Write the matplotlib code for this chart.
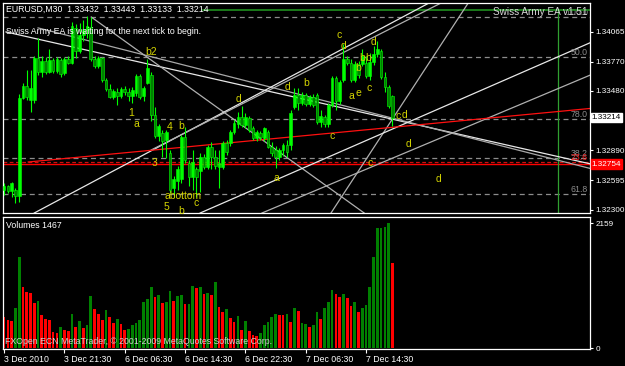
import numpy as np
import matplotlib
matplotlib.use('Agg')
import matplotlib.pyplot as plt

# EURUSD M30 candles, 3 Dec 2010 .. 7 Dec 2010
opens = [1.3250, 1.3254, 1.3249, 1.3250, 1.3244, 1.3341, 1.3353, 1.3339, 1.3339, 1.3381,
         1.3367, 1.3378, 1.3367, 1.3379, 1.3368, 1.3379, 1.3366, 1.3380, 1.3376, 1.3410,
         1.3388, 1.3403, 1.3408, 1.3411, 1.3380, 1.3373, 1.3381, 1.3359, 1.3350, 1.3342,
         1.3347, 1.3343, 1.3350, 1.3347, 1.3343, 1.3346, 1.3363, 1.3343, 1.3356, 1.3364,
         1.3324, 1.3303, 1.3306, 1.3299, 1.3286, 1.3252, 1.3259, 1.3261, 1.3302, 1.3276,
         1.3263, 1.3271, 1.3269, 1.3282, 1.3273, 1.3292, 1.3282, 1.3273, 1.3273, 1.3296,
         1.3296, 1.3307, 1.3315, 1.3322, 1.3314, 1.3321, 1.3311, 1.3301, 1.3306, 1.3301,
         1.3307, 1.3292, 1.3289, 1.3282, 1.3289, 1.3294, 1.3294, 1.3332, 1.3344, 1.3336,
         1.3344, 1.3335, 1.3342, 1.3344, 1.3317, 1.3322, 1.3315, 1.3334, 1.3361, 1.3338,
         1.3359, 1.3380, 1.3376, 1.3359, 1.3375, 1.3375, 1.3376, 1.3363, 1.3377, 1.3385,
         1.3388, 1.3362, 1.3352, 1.33432]
highs = [1.3257, 1.3255, 1.3258, 1.3252, 1.3345, 1.3356, 1.3369, 1.3369, 1.3383, 1.3400,
         1.3383, 1.3382, 1.3390, 1.3381, 1.3382, 1.3381, 1.3382, 1.3383, 1.3416, 1.3414,
         1.3415, 1.3418, 1.3422, 1.3421, 1.3383, 1.3383, 1.3382, 1.3361, 1.3355, 1.3350,
         1.3351, 1.3352, 1.3353, 1.3351, 1.3352, 1.3365, 1.3365, 1.3353, 1.3380, 1.3367,
         1.3332, 1.3315, 1.3309, 1.3309, 1.3289, 1.3264, 1.3274, 1.3304, 1.3312, 1.3279,
         1.3289, 1.3273, 1.3286, 1.3285, 1.3294, 1.3297, 1.3289, 1.3289, 1.3298, 1.3299,
         1.3309, 1.3319, 1.3327, 1.3333, 1.3326, 1.3323, 1.3313, 1.3309, 1.3308, 1.3312,
         1.3309, 1.3297, 1.3293, 1.3291, 1.3296, 1.3299, 1.3329, 1.3351, 1.3351, 1.3347,
         1.3346, 1.3344, 1.3345, 1.3346, 1.3329, 1.3324, 1.3336, 1.3363, 1.3363, 1.3359,
         1.3395, 1.3383, 1.3380, 1.3378, 1.3378, 1.3390, 1.3383, 1.3386, 1.3393, 1.3398,
         1.3390, 1.3367, 1.3354, 1.33443]
lows = [1.3245, 1.3247, 1.3243, 1.3237, 1.3238, 1.3340, 1.3339, 1.3327, 1.3336, 1.3364,
        1.3362, 1.3365, 1.3366, 1.3366, 1.3366, 1.3362, 1.3364, 1.3375, 1.3375, 1.3381,
        1.3386, 1.3398, 1.3400, 1.3378, 1.3371, 1.3371, 1.3357, 1.3348, 1.3341, 1.3340,
        1.3334, 1.3341, 1.3344, 1.3338, 1.3336, 1.3343, 1.3340, 1.3338, 1.3355, 1.3318,
        1.3301, 1.3298, 1.3282, 1.3281, 1.3247, 1.3243, 1.3250, 1.3257, 1.3276, 1.3254,
        1.3250, 1.3243, 1.3248, 1.3271, 1.3271, 1.3271, 1.3271, 1.3252, 1.3271, 1.3284,
        1.3293, 1.3305, 1.3311, 1.3312, 1.3311, 1.3307, 1.3299, 1.3298, 1.3299, 1.3298,
        1.3291, 1.3283, 1.3272, 1.3279, 1.3283, 1.3282, 1.3289, 1.3330, 1.3329, 1.3334,
        1.3333, 1.3333, 1.3332, 1.3315, 1.3312, 1.3312, 1.3312, 1.3332, 1.3329, 1.3335,
        1.3357, 1.3374, 1.3357, 1.3357, 1.3361, 1.3373, 1.3361, 1.3359, 1.3374, 1.3382,
        1.3360, 1.3347, 1.3331, 1.33133]
closes = [1.3254, 1.3249, 1.3257, 1.3244, 1.3341, 1.3353, 1.3342, 1.3351, 1.3381, 1.3367,
          1.3378, 1.3367, 1.3379, 1.3368, 1.3380, 1.3365, 1.3380, 1.3376, 1.3412, 1.3388,
          1.3403, 1.3408, 1.3412, 1.3380, 1.3373, 1.3381, 1.3359, 1.3350, 1.3342, 1.3348,
          1.3343, 1.3350, 1.3347, 1.3343, 1.3349, 1.3363, 1.3342, 1.3351, 1.3371, 1.3324,
          1.3303, 1.3313, 1.3298, 1.3307, 1.3250, 1.3261, 1.3271, 1.3302, 1.3279, 1.3263,
          1.3277, 1.3263, 1.3282, 1.3273, 1.3292, 1.3282, 1.3274, 1.3276, 1.3296, 1.3287,
          1.3307, 1.3316, 1.3322, 1.3314, 1.3322, 1.3309, 1.3301, 1.3307, 1.3302, 1.3311,
          1.3292, 1.3286, 1.3282, 1.3289, 1.3294, 1.3287, 1.3326, 1.3344, 1.3336, 1.3344,
          1.3335, 1.3342, 1.3334, 1.3317, 1.3323, 1.3315, 1.3334, 1.3361, 1.3338, 1.3357,
          1.3380, 1.3376, 1.3359, 1.3375, 1.3364, 1.3383, 1.3363, 1.3377, 1.3385, 1.3390,
          1.3362, 1.3352, 1.3333, 1.33214]

volumes = [535, 489, 471, 691, 1572, 1064, 978, 950, 788, 817,
           575, 500, 489, 287, 270, 363, 317, 299, 593, 363,
           466, 345, 397, 904, 674, 593, 489, 662, 535, 432,
           500, 415, 317, 334, 397, 432, 489, 806, 846, 1064,
           881, 921, 788, 800, 995, 812, 904, 921, 766, 766,
           1076, 1036, 1054, 933, 950, 915, 1146, 719, 622, 674,
           524, 460, 553, 317, 472, 299, 230, 207, 259, 403,
           449, 541, 587, 576, 576, 587, 460, 691, 639, 432,
           425, 363, 403, 622, 506, 691, 800, 1002, 933, 886,
           933, 864, 736, 794, 622, 691, 748, 1059, 1582, 2073,
           2073, 2100, 2159, 1467]
# g = volume up, r = volume down
vol_dirs = ("rrrgg" "rrrr" "g" "rrrrr" "g" "rr" "g" "r" "g" "r" "gg" "rrr" "g" "rr" "g" "rr"
            "ggggggg" "r" "g" "r" "gg" "r" "gg" "r" "gg" "r" "g" "r" "g" "r" "g" "rr" "g" "rr"
            "g" "r" "g" "rrr" "ggggg" "rr" "g" "r" "g" "r" "gg" "r" "gg" "r" "ggg" "rr" "g"
            "rr" "g" "r" "gggggggg" "r")

time_ticks = [0, 16, 32, 48, 64, 80, 96]
time_labels = ['3 Dec 2010', '3 Dec 21:30', '6 Dec 06:30', '6 Dec 14:30',
               '6 Dec 22:30', '7 Dec 06:30', '7 Dec 14:30']
price_ticks = [1.34065, 1.33770, 1.33480, 1.32890, 1.32595, 1.32300]

# fib / level lines
fib_levels = [1.34216, 1.33812, 1.33202, 1.32818, 1.32455]
fib_names = ['100.0', '50.0', '78.0', '38.2', '61.8']
level_236 = 1.32778
red_level = 1.32754
bid = 1.33214

# trend lines: (bar0, price0, bar1, price1, colour)
trend_lines = [
    (0.5, 1.34065, 165.0, 1.32676, '#e8e8e8'),
    (9.0, 1.34105, 165.0, 1.32620, '#a8a8a8'),
    (23.1, 1.34213, 95.5, 1.32269, '#b0b0b0'),
    (8.0, 1.32269, 112.7, 1.34352, '#e8e8e8'),
    (39.0, 1.32894, 115.9, 1.34352, '#b0b0b0'),
    (86.7, 1.32269, 123.1, 1.34352, '#b0b0b0'),
    (52.0, 1.32269, 165.0, 1.34114, '#e8e8e8'),
    (68.4, 1.32269, 165.0, 1.33787, '#b0b0b0'),
]
red_trend = (6.4, 1.32775, 165.0, 1.33340)

wave_labels = [('b2', 39.0, 1.3387), ('1', 33.7, 1.3326), ('a', 35.0, 1.3315),
               ('4', 43.8, 1.3312), ('b', 46.9, 1.3313), ('3', 39.8, 1.3276),
               ('abottom', 47.5, 1.3244), ('5', 43.0, 1.3233), ('b', 46.9, 1.3229),
               ('c', 50.9, 1.3237), ('a', 72.1, 1.3262), ('d', 62.1, 1.3340),
               ('d', 75.1, 1.3352), ('b', 80.1, 1.3356), ('c', 88.9, 1.3403),
               ('d', 89.9, 1.3393), ('d', 98.1, 1.3397), ('b', 95.0, 1.3381),
               ('b', 96.6, 1.3381), ('b', 93.9, 1.3371), ('a', 92.0, 1.3343),
               ('e', 93.9, 1.3346), ('c', 96.8, 1.3351), ('c', 87.0, 1.3303),
               ('c', 97.1, 1.3276), ('c', 104.5, 1.3323), ('d', 106.3, 1.3324),
               ('d', 107.2, 1.3295), ('d', 115.1, 1.3261)]

W, H = 625, 366
def fx(px):
    return px / W
def fy(py):
    return 1 - py / H

fig = plt.figure(figsize=(6.25, 3.66), dpi=100, facecolor='black')
ax = fig.add_axes([fx(3), fy(213), fx(590) - fx(3), fy(3) - fy(213)], facecolor='black')
axv = fig.add_axes([fx(3), fy(349), fx(590) - fx(3), fy(217) - fy(349)], facecolor='black')

font = 'Liberation Sans'
fs = 6.3
afs = 5.9
xmax = 155.4
x = np.arange(len(opens))
o = np.array(opens); c = np.array(closes)

# horizontal levels
for lv in fib_levels:
    ax.axhline(lv, color='#8c8c8c', lw=0.9, ls=(0, (4, 3)), zorder=1)
ax.axhline(level_236, color='#d01010', lw=0.9, ls=(0, (3, 2)), zorder=1)
ax.axhline(red_level, color='#ff0000', lw=1.0, zorder=1)
ax.plot([52.8, xmax], [1.34283, 1.34283], color='#1f8f1f', lw=1.2, zorder=1)
ax.plot([147.0, 147.0], [1.32, 1.34283], color='#30a030', lw=0.9, zorder=1)

for b0, p0, b1, p1, col in trend_lines:
    ax.plot([b0, b1], [p0, p1], color=col, lw=0.9, zorder=2)
ax.plot([red_trend[0], red_trend[2]], [red_trend[1], red_trend[3]], color='#ff1010', lw=0.9, zorder=2)

# candles
ax.vlines(x, lows, highs, color='#00ff00', lw=0.8, zorder=3)
bull = c >= o
body_col = ['#00ff00' if b else '#008000' for b in bull]
ax.bar(x, np.maximum(np.abs(c - o), 0.00004), 0.72, bottom=np.minimum(o, c),
       color=body_col, edgecolor='#00ff00', lw=0.4, zorder=4)

for txt, b, p in wave_labels:
    ax.text(b, p, txt, color='#d4d400', fontsize=7.5, family=font, ha='center', va='center', zorder=5)

ax.set_xlim(-0.3, xmax)
ax.set_ylim(1.32269, 1.34352)
ax.set_xticks([])
ax.yaxis.tick_right()
ax.set_yticks(price_ticks)
ax.set_yticklabels(['%.5f' % t for t in price_ticks])
ax.tick_params(axis='y', colors='white', length=2.5, width=0.8, labelsize=afs, pad=1.5)
for lab in ax.get_yticklabels():
    lab.set_family(font)
for s in ax.spines.values():
    s.set_color('white'); s.set_linewidth(0.9)

trans = ax.get_yaxis_transform()
ax.text(1.003, bid, '%.5f' % bid, transform=trans, color='black', fontsize=afs, family=font,
        va='center', ha='left', bbox=dict(boxstyle='square,pad=0.15', fc='white', ec='white'))
ax.text(1.003, red_level, '%.5f' % red_level, transform=trans, color='white', fontsize=afs, family=font,
        va='center', ha='left', bbox=dict(boxstyle='square,pad=0.15', fc='#ff0000', ec='#ff0000'))

# volumes
vcol = ['#008000' if d == 'g' else '#ff0000' for d in vol_dirs]
axv.bar(x, volumes, 0.72, color=vcol)
axv.set_xlim(-0.3, xmax)
axv.set_ylim(-12, 2268)
axv.yaxis.tick_right()
axv.set_yticks([0, 2159])
axv.set_yticklabels(['0', '2159'])
axv.tick_params(axis='y', colors='white', length=2.5, width=0.8, labelsize=afs, pad=1.5)
axv.set_xticks(time_ticks)
axv.set_xticklabels(time_labels, ha='left')
axv.tick_params(axis='x', colors='white', length=3, width=0.8, labelsize=fs, pad=1)
for lab in axv.get_xticklabels() + axv.get_yticklabels():
    lab.set_family(font)
for s in axv.spines.values():
    s.set_color('white'); s.set_linewidth(0.9)

# captions
fig.text(fx(6), fy(9), 'EURUSD,M30  1.33432  1.33443  1.33133  1.33214', color='white',
         fontsize=fs, family=font, va='center')
fig.text(fx(6), fy(31), 'Swiss Army EA is waiting for the next tick to begin.', color='white',
         fontsize=fs, family=font, va='center')
fig.text(fx(588), fy(12), 'Swiss Army EA v1.51', color='#d8d8d8', fontsize=7.2, family=font,
         va='center', ha='right')
ax.text(1.0, fib_levels[0], '100.0 ', transform=trans, color='#8c8c8c', fontsize=fs, family=font,
        va='bottom', ha='right', zorder=0)
for lv, nm in zip(fib_levels[1:], fib_names[1:]):
    ax.text(0.996, lv, nm, transform=trans, color='#8c8c8c', fontsize=fs, family=font,
            va='bottom', ha='right')
ax.text(0.996, level_236, '23.6', transform=trans, color='#ff2020', fontsize=fs, family=font,
        va='bottom', ha='right')
fig.text(fx(6), fy(226), 'Volumes 1467', color='white', fontsize=fs, family=font, va='center')
fig.text(fx(5), fy(341), 'FXOpen ECN MetaTrader, \u00a9 2001-2009 MetaQuotes Software Corp.',
         color='#d0d0d0', fontsize=fs, family=font, va='center')

fig.savefig('out.png', dpi=100, facecolor='black')
